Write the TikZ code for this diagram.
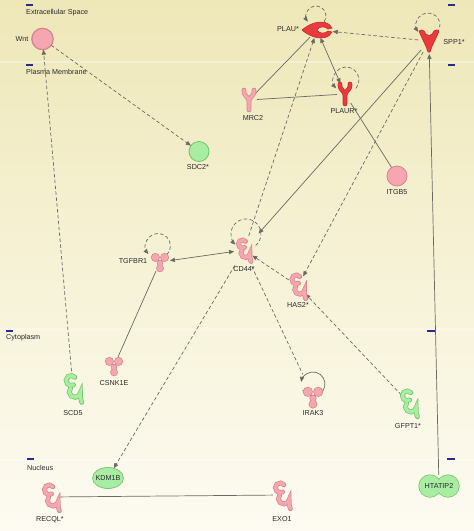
\documentclass[tikz,border=0pt]{standalone}
\usepackage{fontspec}
\setmainfont{Liberation Sans}
\usetikzlibrary{arrows.meta,shapes.geometric}
\definecolor{bgTop}{HTML}{EEE7B8}
\definecolor{bgMid}{HTML}{F6F2D6}
\definecolor{bgBot}{HTML}{FDFBF2}
\definecolor{pinkF}{HTML}{F5A6AF}
\definecolor{pinkD}{HTML}{D4848D}
\definecolor{redF}{HTML}{E83A3F}
\definecolor{redD}{HTML}{C42A30}
\definecolor{greenF}{HTML}{A8EDA2}
\definecolor{greenD}{HTML}{72C46E}
\definecolor{lineC}{HTML}{6A6A62}
\definecolor{textC}{HTML}{2B2B2B}
\definecolor{barC}{HTML}{2A2A8A}
\tikzset{
  hub/.style={inner sep=0pt, outer sep=0pt, draw=none},
  circ/.style={circle, inner sep=0pt, outer sep=0pt, line width=0.8pt},
  gl/.style={text=textC, inner sep=0pt},
  layerlbl/.style={text=textC, anchor=west, inner sep=0pt},
  bar/.style={draw=barC, line width=1.4pt},
  sep/.style={draw=white, opacity=0.35, line width=1.2pt},
  conn/.style={draw=lineC, line width=0.7pt},
  dconn/.style={conn, dash pattern=on 3.5pt off 2.4pt},
  arr/.style={-{Triangle[length=5pt,width=4.2pt]}},
  darr/.style={{Triangle[length=5pt,width=4.2pt]}-{Triangle[length=5pt,width=4.2pt]}},
  pics/curl/.style 2 args={code={
    \draw[draw=#2, line width=4.8pt, line cap=round]
      (1.56,-8.57) arc[start angle=-40, end angle=-300, radius=4]
      (-1.95,0.1) arc[start angle=-140, end angle=-350, radius=4.5]
      .. controls (6.2,7) and (5.5,9.5) .. (7,11.5);
    \draw[draw=#1, line width=3.4pt, line cap=round]
      (1.56,-8.57) arc[start angle=-40, end angle=-300, radius=4]
      (-1.95,0.1) arc[start angle=-140, end angle=-350, radius=4.5]
      .. controls (6.2,7) and (5.5,9.5) .. (7,11.5);
  }},
  pics/yrec/.style 2 args={code={
    \draw[draw=#2, line width=4.6pt, line cap=round, line join=round]
      (-5,-10) .. controls (-5.5,-3) and (0,-4) .. (0,2)
      (5,-10) .. controls (5.5,-3) and (0,-4) .. (0,2) -- (0,10);
    \draw[draw=#1, line width=3.2pt, line cap=round, line join=round]
      (-5,-10) .. controls (-5.5,-3) and (0,-4) .. (0,2)
      (5,-10) .. controls (5.5,-3) and (0,-4) .. (0,2) -- (0,10);
  }},
  pics/kinase/.style 2 args={code={
    \fill[#2] (-4,-4) circle (3.9) (4,-4) circle (3.9) (0,1) circle (2.8) (0,5.5) circle (3.4);
    \fill[#1] (-4,-4) circle (3.3) (4,-4) circle (3.3) (0,1) circle (2.2) (0,5.5) circle (2.8);
  }},
  pics/plaushape/.style={code={
    \filldraw[fill=redF, draw=redD, line width=0.6pt]
      (-15,0) .. controls (-8,-6) and (0,-9) .. (8,-7.5)
      .. controls (12,-6.5) and (14,-4) .. (15,-2) -- (11,-1)
      .. controls (8,-4) and (2,-4) .. (0,0)
      .. controls (2,4) and (8,4) .. (11,1) -- (15,2)
      .. controls (14,4) and (12,6.5) .. (8,7.5)
      .. controls (0,9) and (-8,6) .. (-15,0) -- cycle;
  }},
  pics/sppshape/.style={code={
    \filldraw[fill=redF, draw=redD, line width=0.6pt]
      (-10,-10) .. controls (-9,-11.5) and (-6,-11.5) .. (-5,-10)
      .. controls (-3,-4) and (3,-4) .. (5,-10)
      .. controls (6,-11.5) and (9,-11.5) .. (10,-10)
      .. controls (7,-2) and (3,4) .. (1,11) -- (-1,11)
      .. controls (-3,4) and (-7,-2) .. (-10,-10) -- cycle;
  }},
  pics/peanut/.style={code={
    \fill[greenD] (-9,0) circle (11.6) (9,0) circle (11.6);
    \fill[greenF] (-9,0) circle (10.9) (9,0) circle (10.9);
  }}
}
\begin{document}
\begin{tikzpicture}[x=1pt, y=-1pt, font=\fontsize{7.2}{8.5}\selectfont]
\useasboundingbox (0,0) rectangle (474,531);
\shade[top color=bgTop, bottom color=bgBot, middle color=bgMid] (0,0) rectangle (474,531);
% compartment separators
\draw[sep] (0,62) -- (474,62);
\draw[sep] (0,329) -- (474,329);
\draw[sep] (0,460) -- (474,460);
% bars
\draw[bar] (26,5) -- (33,5);
\draw[bar] (448,5) -- (455,5);
\draw[bar] (26,65) -- (33,65);
\draw[bar] (448,65) -- (455,65);
\draw[bar] (6,331) -- (13,331);
\draw[bar] (427,331) -- (435,331);
\draw[bar] (27,459) -- (34,459);
\draw[bar] (447,459) -- (455,459);
% layer labels
\node[layerlbl] (lExtra) at (26,13) {Extracellular Space};
\node[layerlbl] (lPM) at (26,72) {Plasma Membrane};
\node[layerlbl] (lCyto) at (6,338) {Cytoplasm};
\node[layerlbl] (lNuc) at (27,468) {Nucleus};
% nodes
\node[circ, fill=pinkF, draw=pinkD, minimum size=21.4pt, line width=1.2pt] (wnt) at (42.5,39) {};
\node[circ, fill=greenF, draw=greenD, minimum size=20pt] (sdc2) at (199,151.5) {};
\node[circ, fill=pinkF, draw=pinkD, minimum size=20pt] (itgb5) at (397,176) {};
\node[hub, ellipse, minimum width=32pt, minimum height=16pt] (plau) at (317,30) {};
\node[hub, ellipse, minimum width=22pt, minimum height=26pt] (spp1) at (429,41) {};
\node[hub, ellipse, minimum width=16pt, minimum height=26pt] (plaur) at (345,94) {};
\node[hub, ellipse, minimum width=16pt, minimum height=26pt] (mrc2) at (249,100) {};
\node[hub, circle, minimum size=20pt] (cd44) at (244,250) {};
\node[hub, circle, minimum size=20pt] (tgfbr1) at (160,262) {};
\node[hub, circle, minimum size=22pt] (has2) at (298,286) {};
\node[hub, circle, minimum size=20pt] (csnk1e) at (114,366) {};
\node[hub, ellipse, minimum width=18pt, minimum height=34pt] (scd5) at (73,388) {};
\node[hub, circle, minimum size=24pt] (irak3) at (313,396) {};
\node[hub, ellipse, minimum width=18pt, minimum height=32pt] (gfpt1) at (409,403) {};
\node[hub, ellipse, minimum width=31pt, minimum height=21pt] (kdm1b) at (108,478) {};
\node[hub, ellipse, minimum width=40pt, minimum height=22pt] (htatip2) at (439,486) {};
\node[hub, ellipse, minimum width=18pt, minimum height=32pt] (recql) at (51,497) {};
\node[hub, ellipse, minimum width=18pt, minimum height=32pt] (exo1) at (282,495) {};
% connectors
\draw[dconn, arr] (wnt) -- (sdc2);
\draw[dconn, arr] (scd5) -- (wnt);
\draw[dconn, arr] (spp1) -- (plau);
\draw[conn, darr] (plau) -- (plaur);
\draw[conn] (mrc2) -- (plau);
\draw[conn] (mrc2) -- (plaur);
\draw[conn] (plaur) -- (itgb5);
\draw[dconn, arr, shorten <=5pt] (cd44) -- (plau);
\draw[conn, arr, shorten >=12pt] (spp1) -- (cd44);
\draw[dconn, arr] (spp1) -- (has2);
\draw[conn, arr] (htatip2) -- (spp1);
\draw[conn, darr] (tgfbr1) -- (cd44);
\draw[conn] (tgfbr1) -- (csnk1e);
\draw[dconn, arr] (has2) -- (cd44);
\draw[dconn, arr] (gfpt1) -- (has2);
\draw[dconn, shorten <=8pt, shorten >=12pt] (cd44) -- (irak3);
\draw[dconn, arr, shorten <=8pt] (cd44) -- (kdm1b);
\draw[conn] (recql) -- (exo1);
% self loops
\draw[dconn, arr] ([shift={(7.2,-8.3)}]plau.center) arc[start angle=35, end angle=-215, radius=10];
\draw[dconn, arr] ([shift={(8.2,-8.3)}]spp1.center) arc[start angle=40, end angle=-215, radius=12];
\draw[dconn, arr] ([shift={(11,-5.6)}]plaur.center) arc[start angle=40, end angle=-220, radius=13];
\draw[dconn, arr] ([shift={(6.8,-7.2)}]tgfbr1.center) arc[start angle=45, end angle=-220, radius=12.5];
\draw[dconn, arr] ([shift={(11.6,-4.5)}]cd44.center) arc[start angle=50, end angle=-225, radius=15];
\draw[conn, arr] ([shift={(-10.4,-6)}]irak3.center) arc[start angle=150, end angle=-170, radius=12];
% shapes
\pic at (plau) {plaushape};
\pic at (spp1) {sppshape};
\pic at (plaur) {yrec={redF}{redD}};
\pic at (mrc2) {yrec={pinkF}{pinkD}};
\pic at (cd44) {curl={pinkF}{pinkD}};
\pic[scale=1.1] at (has2) {curl={pinkF}{pinkD}};
\pic[scale=1.15] at (tgfbr1) {kinase={pinkF}{pinkD}};
\pic[scale=1.15] at (csnk1e) {kinase={pinkF}{pinkD}};
\pic[scale=1.3] at ([yshift=-1]irak3.center) {kinase={pinkF}{pinkD}};
\pic[scale=1.25] at (scd5) {curl={greenF}{greenD}};
\pic[scale=1.2] at (gfpt1) {curl={greenF}{greenD}};
\pic[scale=1.2] at (recql) {curl={pinkF}{pinkD}};
\pic[scale=1.2] at (exo1) {curl={pinkF}{pinkD}};
\filldraw[fill=greenF, draw=greenD, line width=0.7pt] (kdm1b.center) ellipse [x radius=15.5, y radius=10.5];
\pic at (htatip2) {peanut};
% gene labels
\node[gl] (lwnt) at (22,39) {Wnt};
\node[gl] (lsdc2) at (198,167) {SDC2*};
\node[gl] (lplau) at (288,29) {PLAU*};
\node[gl] (lspp1) at (454,42) {SPP1*};
\node[gl] (lmrc2) at (253,118) {MRC2};
\node[gl] (lplaur) at (344,111) {PLAUR*};
\node[gl] (litgb5) at (397,192) {ITGB5};
\node[gl] (ltgfbr1) at (133,261) {TGFBR1};
\node[gl] (lcd44) at (244,269) {CD44*};
\node[gl] (lhas2) at (298,305) {HAS2*};
\node[gl] (lcsnk1e) at (114,383) {CSNK1E};
\node[gl] (lscd5) at (73,413) {SCD5};
\node[gl] (lirak3) at (313,413) {IRAK3};
\node[gl] (lgfpt1) at (408,426) {GFPT1*};
\node[gl] (lkdm1b) at (kdm1b.center) {KDM1B};
\node[gl] (lhtatip2) at (htatip2.center) {HTATIP2};
\node[gl] (lrecql) at (50,520) {RECQL*};
\node[gl] (lexo1) at (282,519) {EXO1};
\end{tikzpicture}
\end{document}
